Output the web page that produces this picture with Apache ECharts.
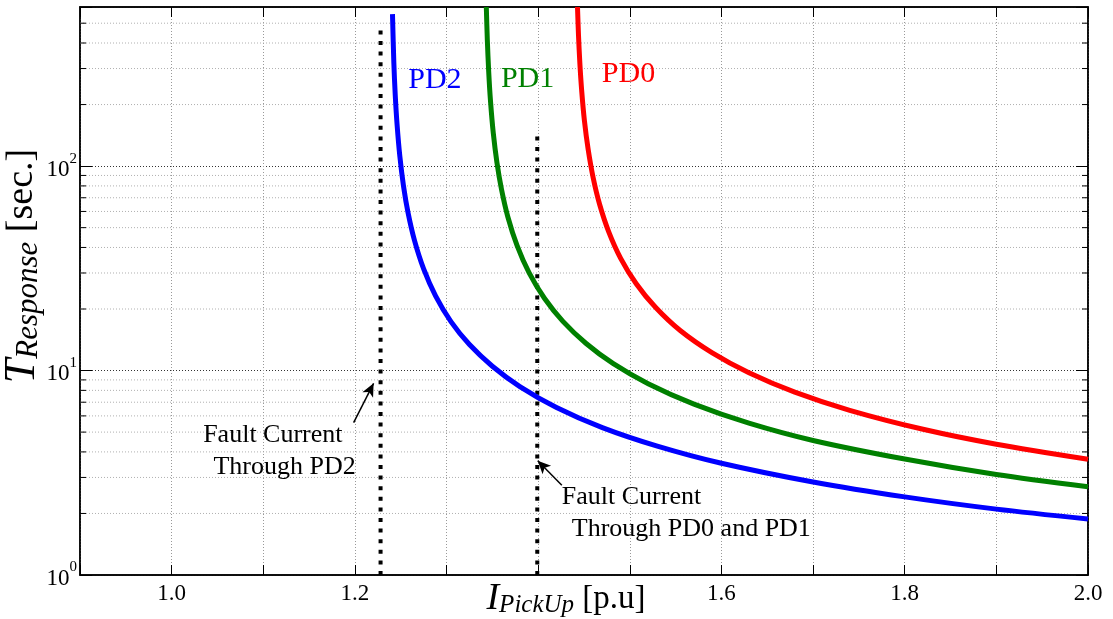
<!DOCTYPE html>
<html><head><meta charset="utf-8">
<script src="https://cdn.jsdelivr.net/npm/echarts@6/dist/echarts.min.js"></script>
<style>html,body{margin:0;padding:0;background:#fff}#c{width:1113px;height:619px}</style>
</head><body><div id="c"></div>
<script>
// ---- data ----
const pd2X = [1.2410, 1.2425, 1.2440, 1.2460, 1.2490, 1.2530, 1.2580, 1.2650, 1.2750, 1.2880, 1.3050, 1.3250, 1.3500, 1.3800, 1.4200, 1.4700, 1.5300, 1.6000, 1.7000, 1.8000, 1.9000, 2.0000];
const pd2Y = [554, 319, 223, 160, 112, 80.1, 59.1, 43.3, 31.4, 23.2, 17.3, 13.4, 10.5, 8.35, 6.60, 5.26, 4.27, 3.52, 2.85, 2.41, 2.10, 1.88];
const pd1X = [1.3434, 1.3445, 1.3460, 1.3480, 1.3510, 1.3550, 1.3600, 1.3670, 1.3770, 1.3900, 1.4070, 1.4270, 1.4520, 1.4820, 1.5200, 1.5700, 1.6300, 1.7000, 1.8000, 1.9000, 2.0000];
const pd1Y = [600, 414, 290, 207, 145, 104, 76.8, 56.2, 40.8, 30.1, 22.5, 17.4, 13.6, 10.8, 8.62, 6.85, 5.53, 4.55, 3.69, 3.10, 2.70];
const pd0X = [1.4429, 1.4440, 1.4455, 1.4475, 1.4505, 1.4545, 1.4600, 1.4670, 1.4770, 1.4900, 1.5070, 1.5280, 1.5550, 1.5900, 1.6300, 1.6800, 1.7400, 1.8200, 1.9000, 2.0000];
const pd0Y = [600, 436, 317, 233, 166, 121, 87.7, 65.1, 47.7, 35.4, 26.6, 20.4, 15.7, 12.2, 9.75, 7.84, 6.39, 5.16, 4.36, 3.68];
const faultPD2X = 1.228, faultPD2Range = [1, 462];
const faultPD01X = 1.399, faultPD01Range = [1, 145];
const xTickLabels = ['1.0', '1.2', '1.6', '1.8', '2.0'];
const yMinorTicks = [2, 3, 4, 5, 6, 7, 8, 9, 20, 30, 40, 50, 60, 70, 80, 90, 200, 300, 400, 500];
const seriesNames = ['PD2', 'PD1', 'PD0'];
const annotPD2 = ['Fault Current', 'Through PD2'];
const annotPD01 = ['Fault Current', 'Through PD0 and PD1'];

// ---- chart ----
const FONT = 'Liberation Serif';
const X_MIN = 0.9, X_MAX = 2.0, Y_MIN = 1, Y_MAX = 600;
const zip = (xs, ys) => xs.map((x, i) => [x, ys[i]]);
const chart = echarts.init(document.getElementById('c'));

function curve(name, xs, ys, color, labelAt) {
  return {
    name, type: 'line', data: zip(xs, ys), showSymbol: false, symbol: 'none',
    smooth: 0.3, clip: true, z: 5,
    lineStyle: { color, width: 5 }, itemStyle: { color }, silent: true,
    markPoint: {
      silent: true, symbol: 'circle', symbolSize: 0, animation: false,
      label: { show: true, position: 'right', distance: 0, formatter: '{b}', color, fontFamily: FONT, fontSize: 30 },
      data: [{ name, coord: labelAt }]
    }
  };
}
const textLabel = { show: true, position: 'right', distance: 0, formatter: '{b}', color: '#000', fontFamily: FONT, fontSize: 26 };
const faultLine = (x, range) => ({
  type: 'line', data: [[x, range[0]], [x, range[1]]], symbol: 'none', showSymbol: false, silent: true, z: 4,
  lineStyle: { color: '#000', width: 4, type: [4, 6.6], cap: 'butt' }
});
const arrow = (from, to) => ({
  silent: true, symbol: ['none', 'arrow'], symbolSize: [9, 13], animation: false,
  lineStyle: { color: '#000', width: 1.5, type: 'solid' }, label: { show: false },
  data: [[{ coord: from }, { coord: to }]]
});

const f1 = faultLine(faultPD2X, faultPD2Range);
f1.markLine = arrow([1.1986, 5.56], [1.2204, 8.66]);
f1.markPoint = { silent: true, symbol: 'circle', symbolSize: 0, label: textLabel,
  data: [{ name: annotPD2[0], coord: [1.0344, 4.84] }, { name: annotPD2[1], coord: [1.0456, 3.37] }] };
const f2 = faultLine(faultPD01X, faultPD01Range);
f2.markLine = arrow([1.4258, 2.75], [1.3995, 3.62]);
f2.markPoint = { silent: true, symbol: 'circle', symbolSize: 0, label: textLabel,
  data: [{ name: annotPD01[0], coord: [1.4258, 2.41] }, { name: annotPD01[1], coord: [1.4367, 1.673] }] };

const minorGrid = {
  type: 'custom', silent: true, z: 1, clip: true,
  data: yMinorTicks.map(v => [X_MIN, v]), encode: { x: 0, y: 1 },
  renderItem: (params, api) => {
    const v = api.value(1);
    const a = api.coord([X_MIN, v]), b = api.coord([X_MAX, v]);
    return { type: 'group', children: [
      { type: 'line', shape: { x1: a[0], y1: a[1], x2: b[0], y2: b[1] }, style: { stroke: '#b0b0b0', lineWidth: 1, lineDash: [1, 2] } },
      { type: 'line', shape: { x1: a[0], y1: a[1], x2: a[0] + 6, y2: a[1] }, style: { stroke: '#000', lineWidth: 1 } },
      { type: 'line', shape: { x1: b[0] - 6, y1: b[1], x2: b[0], y2: b[1] }, style: { stroke: '#000', lineWidth: 1 } }
    ] };
  }
};

const isPow10 = v => { const e = Math.log10(v); return Math.abs(e - Math.round(e)) < 1e-6; };

const option = {
  animation: false,
  backgroundColor: '#fff',
  grid: { left: 80, right: 25, top: 7, bottom: 44, containLabel: false, outerBoundsMode: 'none',
    show: true, borderColor: '#000', borderWidth: 1.5, backgroundColor: 'transparent' },
  xAxis: [{
    type: 'value', min: X_MIN, max: X_MAX, interval: 0.1, position: 'bottom',
    axisLine: { show: true, onZero: false, lineStyle: { color: '#000', width: 1.5 } },
    axisTick: { show: true, inside: true, length: 10, lineStyle: { color: '#000', width: 1 } },
    axisLabel: {
      color: '#000', fontFamily: FONT, fontSize: 23, margin: 7,
      formatter: v => { const s = (Math.round(v * 10) / 10).toFixed(1); return xTickLabels.includes(s) ? s : ''; }
    },
    splitLine: { show: true, lineStyle: { color: '#999', type: [1, 2], width: 1 } },
    name: '{i|I}{s|PickUp}{n|\u00a0[p.u]}', nameLocation: 'middle', nameGap: 5, nameMoveOverlap: false,
    nameTextStyle: {
      padding: [0, 36, 0, 0],
      rich: {
        i: { fontFamily: FONT, fontStyle: 'italic', fontSize: 38, color: '#000', lineHeight: 38 },
        s: { fontFamily: FONT, fontStyle: 'italic', fontSize: 25, color: '#000', verticalAlign: 'bottom', lineHeight: 38 },
        n: { fontFamily: FONT, fontSize: 33, color: '#000', lineHeight: 38 }
      }
    }
  }, {
    type: 'value', min: X_MIN, max: X_MAX, interval: 0.1, position: 'top',
    axisLine: { show: true, onZero: false, lineStyle: { color: '#000', width: 1.5 } },
    axisTick: { show: true, inside: true, length: 10, lineStyle: { color: '#000', width: 1 } },
    axisLabel: { show: false }, splitLine: { show: false }
  }],
  yAxis: [{
    type: 'log', logBase: 10, min: Y_MIN, max: Y_MAX, position: 'left',
    axisLine: { show: true, onZero: false, lineStyle: { color: '#000', width: 1.5 } },
    axisTick: { show: true, inside: true, length: 12, lineStyle: { color: '#000', width: 1 } },
    axisLabel: {
      color: '#000', fontFamily: FONT, fontSize: 22, margin: 3,
      formatter: v => isPow10(v) ? '{b|10}{p|' + Math.round(Math.log10(v)) + '}' : '',
      rich: {
        b: { fontFamily: FONT, fontSize: 23, color: '#000', lineHeight: 30, verticalAlign: 'bottom' },
        p: { fontFamily: FONT, fontSize: 15, color: '#000', lineHeight: 30, verticalAlign: 'top' }
      }
    },
    splitLine: { show: true, lineStyle: { color: '#333', type: [1, 2], width: 1 } },
    name: '{i|T}{s|Response}{n|\u00a0[sec.]}', nameLocation: 'middle', nameRotate: 90, nameGap: 36, nameMoveOverlap: false,
    nameTextStyle: {
      padding: [0, 0, 0, 50],
      rich: {
        i: { fontFamily: FONT, fontStyle: 'italic', fontSize: 44, color: '#000', lineHeight: 44 },
        s: { fontFamily: FONT, fontStyle: 'italic', fontSize: 31, color: '#000', verticalAlign: 'bottom', lineHeight: 44 },
        n: { fontFamily: FONT, fontSize: 38, color: '#000', lineHeight: 44 }
      }
    }
  }, {
    type: 'log', logBase: 10, min: Y_MIN, max: Y_MAX, position: 'right',
    axisLine: { show: true, onZero: false, lineStyle: { color: '#000', width: 1.5 } },
    axisTick: { show: true, inside: true, length: 12, lineStyle: { color: '#000', width: 1 } },
    axisLabel: { show: false }, splitLine: { show: false }
  }],
  series: [
    minorGrid,
    f1, f2,
    curve(seriesNames[0], pd2X, pd2Y, '#0000ff', [1.2582, 263]),
    curve(seriesNames[1], pd1X, pd1Y, '#008000', [1.3593, 266]),
    curve(seriesNames[2], pd0X, pd0Y, '#ff0000', [1.4695, 283])
  ]
};
chart.setOption(option);
</script>
</body></html>
